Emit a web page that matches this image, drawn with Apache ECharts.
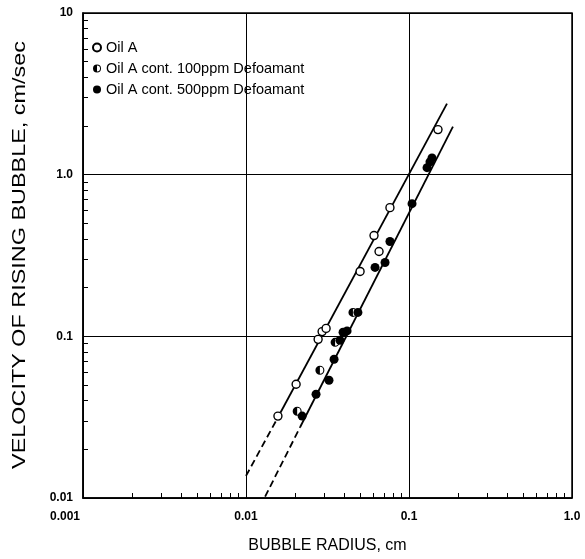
<!DOCTYPE html>
<html>
<head>
<meta charset="utf-8">
<script src="https://cdn.jsdelivr.net/npm/echarts@6/dist/echarts.min.js"></script>
<style>
  body { margin: 0; background: #fff; }
  #main { width: 585px; height: 559px; }
</style>
</head>
<body>
<div id="main"></div>
<script>
// tick labels
var xTickLabels = ['0.001', '0.01', '0.1', '1.0'];
var yTickLabels = ['0.01', '0.1', '1.0', '10'];

// measured points [radius cm, velocity cm/sec]
var oilA = [[0.0157, 0.0321], [0.0203, 0.0505], [0.0277, 0.0958], [0.0293, 0.107], [0.0310, 0.112],
            [0.0501, 0.252], [0.0610, 0.420], [0.0655, 0.335], [0.0764, 0.625], [0.1506, 1.90]];
var oilA100 = [[0.0206, 0.0344], [0.0284, 0.0617], [0.0352, 0.0918], [0.0453, 0.1406]];
var oilA500 = [[0.0221, 0.0321], [0.0269, 0.0438], [0.0323, 0.0535], [0.0347, 0.0721], [0.0377, 0.0945],
               [0.0394, 0.106], [0.0417, 0.108], [0.0486, 0.1406], [0.0619, 0.267], [0.0713, 0.286],
               [0.0764, 0.386], [0.1044, 0.662], [0.129, 1.105], [0.1345, 1.20], [0.1384, 1.27]];

// fitted lines (dashed extrapolation + solid part)
var fitADash = [[0.01, 0.0137], [0.0155, 0.0308]];
var fitASolid = [[0.0155, 0.0308], [0.171, 2.75]];
var fitBDash = [[0.0131, 0.0102], [0.0215, 0.0275]];
var fitBSolid = [[0.0215, 0.0275], [0.186, 1.98]];

var seriesNames = ['Oil A', 'Oil A cont. 100ppm Defoamant', 'Oil A cont. 500ppm Defoamant'];
var yTitle = 'VELOCITY OF RISING BUBBLE, cm/sec';

// left half filled, right half ring
var halfSymbol = 'path://M0,-10A10,10,0,0,1,0,10A10,10,0,0,1,0,-10ZM0,-7.6L0,7.6A7.6,7.6,0,0,0,0,-7.6Z';

var font = 'Liberation Sans, Arial, sans-serif';

function fitLine(data, dashed) {
    return {
        type: 'line',
        data: data,
        showSymbol: false,
        silent: true,
        z: 2,
        lineStyle: { color: '#000', width: 1.8, type: dashed ? [7, 4] : 'solid' }
    };
}

var myChart = echarts.init(document.getElementById('main'));
var option = {
    animation: false,
    backgroundColor: '#fff',
    textStyle: { fontFamily: font },
    grid: {
        left: 83, right: 13, top: 13, bottom: 60,
        show: true, borderColor: '#000', borderWidth: 1.5
    },
    legend: {
        orient: 'vertical',
        left: 87, top: 35,
        itemWidth: 8, itemHeight: 8, itemGap: 6,
        textStyle: { fontSize: 14.5, color: '#000', fontFamily: font },
        data: seriesNames
    },
    // y title drawn as graphic so it can be stretched like the scan
    graphic: [{
        type: 'text',
        x: 20, y: 255,
        rotation: Math.PI / 2,
        scaleX: 1.3,
        silent: true,
        style: {
            text: yTitle,
            x: 0, y: 0,
            align: 'center', verticalAlign: 'middle',
            fontSize: 18, fontFamily: font, fill: '#000'
        }
    }],
    xAxis: {
        type: 'log', logBase: 10, min: 0.001, max: 1,
        name: 'BUBBLE RADIUS, cm', nameLocation: 'middle', nameGap: 40,
        nameTextStyle: { fontSize: 16, color: '#000' },
        axisLine: { lineStyle: { color: '#000', width: 1.5 } },
        axisTick: { show: true, inside: true, length: 5, lineStyle: { color: '#000' } },
        minorTick: { show: true, splitNumber: 9, length: 5, lineStyle: { color: '#000', width: 1 } },
        splitLine: { show: true, lineStyle: { color: '#000', width: 1 } },
        axisLabel: {
            margin: 13, fontSize: 12, fontWeight: 'bold', color: '#000',
            formatter: function (v) {
                var i = Math.round(Math.log10(v)) + 3;
                return i === 0 ? '{first|' + xTickLabels[i] + '}' : xTickLabels[i];
            },
            rich: { first: { fontSize: 12, fontWeight: 'bold', padding: [0, 36, 0, 0] } }
        }
    },
    yAxis: {
        type: 'log', logBase: 10, min: 0.01, max: 10,
        axisLine: { lineStyle: { color: '#000', width: 1.5 } },
        axisTick: { show: true, inside: true, length: 5, lineStyle: { color: '#000' } },
        minorTick: { show: true, splitNumber: 9, length: 5, lineStyle: { color: '#000', width: 1 } },
        splitLine: { show: true, lineStyle: { color: '#000', width: 1 } },
        axisLabel: {
            margin: 10, fontSize: 12, fontWeight: 'bold', color: '#000',
            formatter: function (v) {
                return yTickLabels[Math.round(Math.log10(v)) + 2];
            }
        }
    },
    series: [
        fitLine(fitADash, true),
        fitLine(fitASolid, false),
        fitLine(fitBDash, true),
        fitLine(fitBSolid, false),
        {
            name: seriesNames[0], type: 'scatter', data: oilA, z: 3,
            symbol: 'circle', symbolSize: 8,
            itemStyle: { color: '#fff', borderColor: '#000', borderWidth: 1.4, opacity: 1 }
        },
        {
            name: seriesNames[1], type: 'scatter', data: oilA100, z: 3,
            symbol: halfSymbol, symbolSize: 9,
            itemStyle: { color: '#000', borderWidth: 0, opacity: 1 }
        },
        {
            name: seriesNames[2], type: 'scatter', data: oilA500, z: 3,
            symbol: 'circle', symbolSize: 9,
            itemStyle: { color: '#000', opacity: 1 }
        }
    ]
};
if (option && typeof option === "object") {
    myChart.setOption(option, true);
}
</script>
</body>
</html>
